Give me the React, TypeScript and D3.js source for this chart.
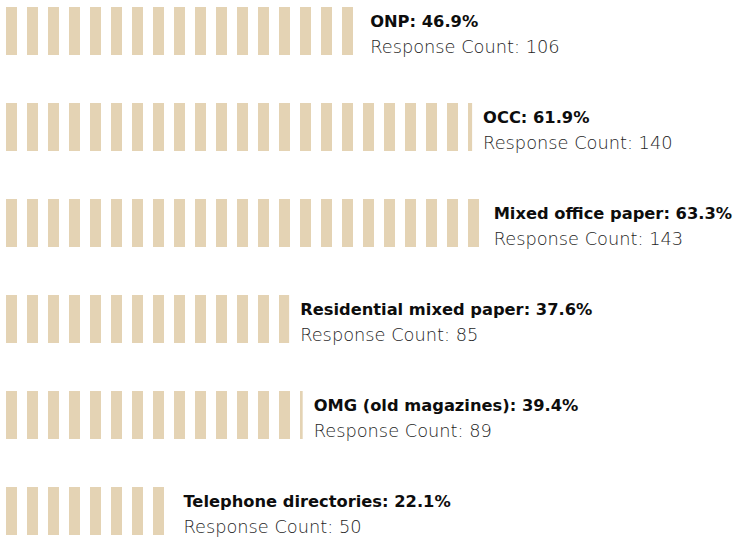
import React from "react";
import * as d3 from "d3";

const categories = [
  "ONP",
  "OCC",
  "Mixed office paper",
  "Residential mixed paper",
  "OMG (old magazines)",
  "Telephone directories",
];
const percents = [46.9, 61.9, 63.3, 37.6, 39.4, 22.1];
const counts = [106, 140, 143, 85, 89, 50];

const width = 740;
const height = 538;

const App = () => {
  const x = d3.scaleLinear().domain([0, 100]).range([6, 759]);
  const y = d3
    .scaleBand<string>()
    .domain(categories)
    .range([7, 535])
    .paddingInner(0.5)
    .paddingOuter(0);

  return (
    <svg
      width={width}
      height={height}
      style={{ position: "absolute", left: 0, top: 0 }}
      fontFamily="'DejaVu Sans', sans-serif"
    >
      <defs>
        <pattern
          id="stripes"
          patternUnits="userSpaceOnUse"
          x={x(0)}
          y={0}
          width={21}
          height={height}
        >
          <rect x={0} y={0} width={11} height={height} fill="#e4d3b4" />
        </pattern>
      </defs>
      {categories.map((c, i) => {
        const top = y(c) as number;
        const end = x(percents[i]);
        return (
          <g key={c}>
            <rect
              x={x(0)}
              y={top}
              width={end - x(0)}
              height={y.bandwidth()}
              fill="url(#stripes)"
            />
            <text
              x={end + 11}
              y={top + 19.5}
              fontSize={16.3}
              fontWeight="bold"
              fill="#0d0d0d"
            >
              {c}: {percents[i]}%
            </text>
            <text
              x={end + 11}
              y={top + 46}
              fontSize={17.8}
              fontWeight={300}
              fill="#1e1e1e"
            >
              Response Count: {counts[i]}
            </text>
          </g>
        );
      })}
    </svg>
  );
};

export default App;
